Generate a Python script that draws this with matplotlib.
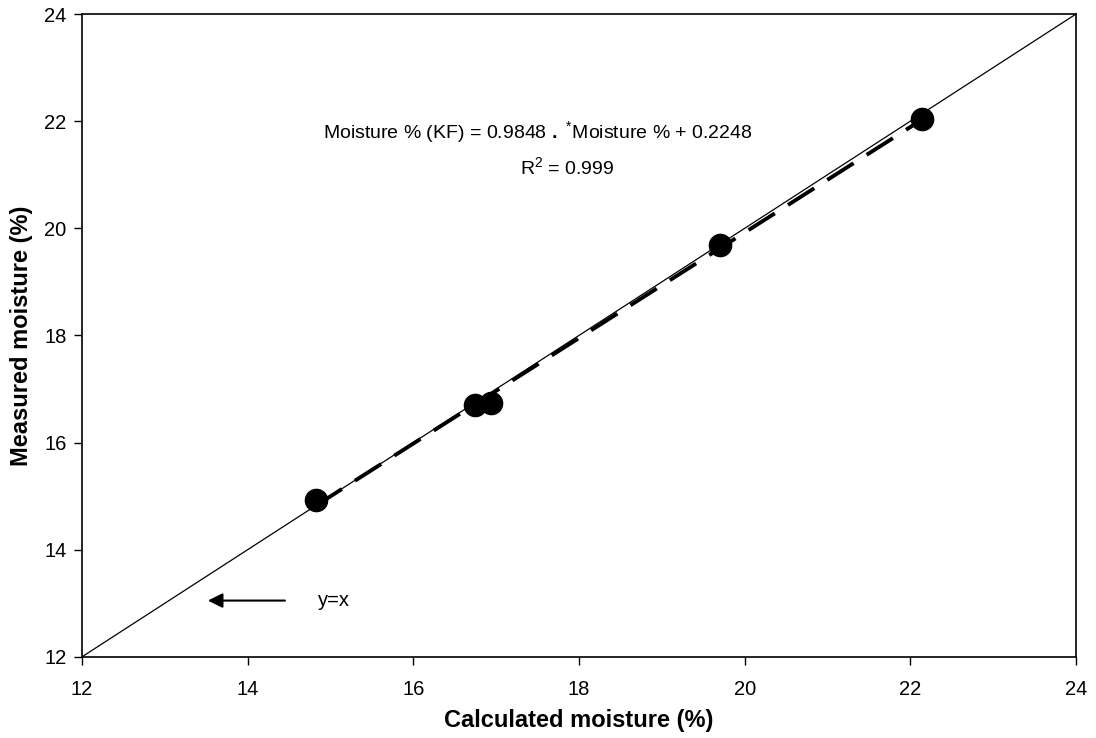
import matplotlib
matplotlib.use("Agg")
import matplotlib.pyplot as plt
import numpy as np

# Data
calc_moisture = [14.82, 16.74, 16.94, 19.70, 22.14]
meas_moisture = [14.93, 16.70, 16.74, 19.69, 22.04]
slope = 0.9848
intercept = 0.2248
r2_text = "0.999"

plt.rcParams['font.family'] = ['Liberation Sans', 'DejaVu Sans']
plt.rcParams['mathtext.fontset'] = 'custom'
plt.rcParams['mathtext.rm'] = 'Liberation Sans'
plt.rcParams['mathtext.bf'] = 'Liberation Sans:bold'

fig = plt.figure(figsize=(10.96, 7.38), dpi=100)
ax = fig.add_axes([0.0748, 0.110, 0.907, 0.871])

# y = x reference line
ax.plot([12, 24], [12, 24], color='black', linewidth=0.9)

# fitted line over data range
xfit = np.array([min(calc_moisture), max(calc_moisture)])
ax.plot(xfit, slope * xfit + intercept, color='black', linewidth=2.8,
        linestyle=(0, (8, 4)))

ax.plot(calc_moisture, meas_moisture, 'o', color='black', markersize=16,
        zorder=3)

ax.set_xlim(12, 24)
ax.set_ylim(12, 24)
ax.set_xticks(range(12, 25, 2))
ax.set_yticks(range(12, 25, 2))
ax.tick_params(direction='out', length=6, width=1, labelsize=14.5)
ax.tick_params(axis='x', pad=11)
ax.tick_params(axis='y', pad=5)
for s in ax.spines.values():
    s.set_linewidth(1.2)

ax.set_xlabel('Calculated moisture (%)', fontsize=17, fontweight='bold', labelpad=7)
ax.set_ylabel('Measured moisture (%)', fontsize=17, fontweight='bold', labelpad=8)

ax.text(17.5, 21.79, f"Moisture % (KF) = {slope:.4f} $\\mathbf{{.}}$ $^{{*}}$Moisture % + {intercept:.4f}",
        ha='center', va='center', fontsize=14)
ax.text(17.86, 21.13, f"R$^2$ = {r2_text}", ha='center', va='center', fontsize=14)

ax.annotate('', xy=(13.52, 13.05), xytext=(14.45, 13.05),
            arrowprops=dict(arrowstyle='-|>', color='black', lw=1.5,
                            mutation_scale=22, shrinkA=0, shrinkB=0))
ax.text(14.85, 13.05, 'y=x', ha='left', va='center', fontsize=14.5)

fig.savefig('out.png', dpi=100)
